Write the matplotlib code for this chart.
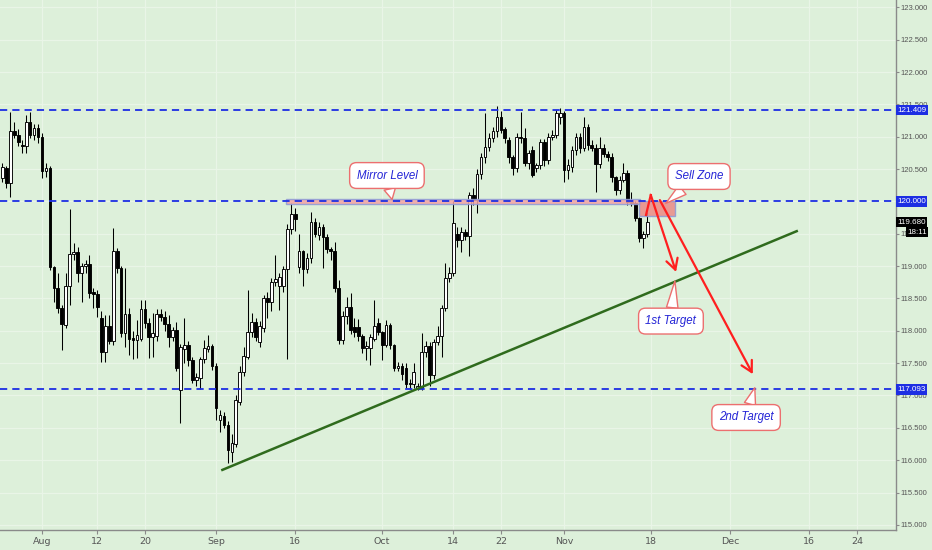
import numpy as np
import pandas as pd
import matplotlib
matplotlib.use('Agg')
import matplotlib.pyplot as plt
from matplotlib.patches import Rectangle

# 12h candles, EUR/JPY, 25 Jul - 15 Nov 2019
opens = [120.36, 120.52, 120.28, 121.09, 121.03, 120.87, 120.85, 121.23, 121.03, 121.13,
         121.00, 120.47, 120.52, 118.99, 118.66, 118.35, 118.09, 118.69, 119.18, 119.22,
         118.90, 119.00, 119.03, 118.60, 118.57, 118.20, 117.67, 118.07, 117.84, 119.23,
         118.97, 117.97, 118.26, 117.89, 117.86, 117.88, 118.34, 118.12, 117.90, 117.92,
         118.26, 118.22, 118.10, 117.91, 118.01, 117.09, 117.72, 117.78, 117.55, 117.24,
         117.27, 117.56, 117.72, 117.76, 117.45, 116.62, 116.68, 116.55, 116.13, 116.25,
         116.90, 117.36, 117.60, 117.98, 118.14, 117.82, 118.05, 118.50, 118.45, 118.76,
         118.70, 118.70, 118.95, 119.57, 119.80, 118.98, 119.23, 118.95, 119.12, 119.68,
         119.48, 119.60, 119.45, 119.26, 119.23, 118.66, 117.86, 118.23, 118.37, 118.06,
         118.06, 117.92, 117.73, 117.73, 117.88, 118.12, 117.98, 117.78, 118.09, 117.78,
         117.42, 117.45, 117.43, 117.20, 117.18, 117.10, 117.12, 117.67, 117.76, 117.31,
         117.82, 117.92, 118.35, 118.82, 118.90, 119.50, 119.40, 119.52, 119.46, 120.10,
         120.02, 120.42, 120.68, 120.84, 120.98, 121.09, 121.30, 121.12, 120.95, 120.68,
         120.52, 121.00, 120.98, 120.60, 120.80, 120.52, 120.56, 120.92, 120.64, 121.00,
         121.03, 121.30, 121.37, 120.49, 120.53, 120.79, 121.00, 120.82, 121.15, 120.87,
         120.83, 120.58, 120.82, 120.74, 120.68, 120.37, 120.18, 120.33, 120.44, 119.99,
         119.97, 119.74, 119.43, 119.50]
highs = [120.60, 120.55, 121.38, 121.22, 121.12, 120.95, 121.33, 121.38, 121.20, 121.20,
         121.05, 120.60, 120.55, 119.00, 118.90, 118.40, 118.90, 119.88, 119.36, 119.30,
         119.05, 119.10, 119.17, 118.66, 118.63, 118.30, 118.24, 118.24, 119.59, 119.28,
         119.00, 118.97, 118.35, 118.00, 118.17, 118.48, 118.48, 118.20, 118.27, 118.33,
         118.33, 118.30, 118.24, 118.06, 118.13, 117.80, 118.20, 117.85, 117.60, 117.35,
         117.60, 117.86, 117.93, 117.80, 117.50, 116.78, 116.75, 116.60, 116.40, 117.00,
         117.45, 117.75, 118.63, 118.28, 118.20, 118.15, 118.55, 118.60, 118.82, 119.17,
         118.90, 119.00, 119.65, 119.98, 119.90, 119.50, 119.25, 119.20, 119.83, 119.75,
         119.68, 119.65, 119.50, 119.30, 119.37, 118.79, 118.30, 118.52, 118.58, 118.20,
         118.18, 117.95, 117.85, 117.95, 118.48, 118.20, 118.00, 118.17, 118.12, 117.80,
         117.52, 117.50, 117.50, 117.25, 117.50, 117.20, 117.97, 117.85, 117.82, 117.88,
         118.08, 118.40, 119.05, 118.98, 120.00, 119.60, 119.60, 119.58, 120.15, 120.20,
         120.50, 120.75, 121.37, 121.05, 121.15, 121.48, 121.40, 121.15, 121.00, 120.72,
         121.06, 121.38, 121.13, 120.80, 120.85, 120.60, 120.97, 120.96, 121.05, 121.10,
         121.42, 121.45, 121.40, 120.65, 120.85, 121.05, 121.05, 121.30, 121.20, 120.95,
         120.88, 121.00, 120.88, 120.78, 120.75, 120.40, 120.40, 120.60, 120.48, 120.15,
         120.00, 119.76, 119.55, 119.83]
lows = [120.30, 120.20, 120.07, 120.98, 120.85, 120.75, 120.75, 120.98, 120.95, 120.90,
        120.36, 120.38, 118.94, 118.44, 118.27, 117.70, 118.05, 118.40, 119.10, 118.76,
        118.45, 118.90, 118.50, 118.35, 118.21, 117.52, 117.52, 117.80, 117.78, 118.90,
        117.90, 117.75, 117.62, 117.57, 117.58, 117.84, 118.05, 117.58, 117.60, 117.85,
        118.15, 118.00, 117.75, 117.85, 117.38, 116.58, 117.50, 117.45, 117.20, 117.15,
        117.10, 117.50, 117.68, 117.40, 116.62, 116.43, 116.50, 115.95, 115.97, 116.20,
        116.85, 117.30, 117.57, 117.90, 117.85, 117.75, 117.98, 118.20, 118.30, 118.70,
        118.32, 118.60, 117.57, 119.50, 119.55, 118.90, 118.70, 118.90, 119.05, 119.45,
        119.40, 118.97, 119.20, 119.10, 118.60, 117.80, 117.80, 118.10, 117.95, 117.90,
        117.85, 117.65, 117.55, 117.47, 117.85, 117.93, 117.55, 117.75, 117.72, 117.38,
        117.38, 117.24, 117.12, 117.10, 117.12, 117.09, 117.09, 117.60, 117.15, 117.25,
        117.78, 117.60, 118.30, 118.75, 118.85, 119.30, 119.22, 119.40, 119.15, 119.95,
        119.82, 120.35, 120.60, 120.78, 120.92, 121.00, 121.05, 120.90, 120.60, 120.41,
        120.45, 120.90, 120.55, 120.50, 120.38, 120.45, 120.50, 120.55, 120.58, 120.95,
        120.98, 121.20, 120.30, 120.35, 120.45, 120.72, 120.75, 120.78, 120.80, 120.78,
        120.15, 120.52, 120.68, 120.62, 120.30, 120.10, 120.12, 120.30, 119.95, 119.93,
        119.70, 119.38, 119.28, 119.45]
closes = [120.53, 120.28, 121.09, 121.03, 120.92, 120.85, 121.23, 121.03, 121.13, 120.99,
          120.47, 120.52, 118.99, 118.66, 118.35, 118.10, 118.69, 119.18, 119.22, 118.90,
          119.00, 119.03, 118.58, 118.57, 118.37, 117.67, 118.07, 117.84, 119.23, 118.97,
          117.97, 118.26, 117.87, 117.86, 117.94, 118.34, 118.12, 117.90, 117.96, 118.26,
          118.22, 118.10, 117.91, 118.01, 117.43, 117.75, 117.78, 117.55, 117.24, 117.29,
          117.56, 117.73, 117.76, 117.45, 116.80, 116.70, 116.55, 116.15, 116.27, 116.93,
          117.37, 117.61, 117.98, 118.14, 117.90, 118.08, 118.50, 118.45, 118.76, 118.80,
          118.83, 118.95, 119.57, 119.80, 119.73, 119.23, 118.95, 119.12, 119.68, 119.50,
          119.60, 119.45, 119.26, 119.23, 118.66, 117.86, 118.23, 118.37, 118.02, 117.98,
          117.92, 117.73, 117.76, 117.90, 118.07, 117.98, 117.78, 118.09, 117.78, 117.42,
          117.45, 117.33, 117.18, 117.18, 117.36, 117.14, 117.67, 117.76, 117.31, 117.82,
          117.92, 118.35, 118.82, 118.90, 119.67, 119.40, 119.52, 119.46, 120.10, 120.02,
          120.42, 120.68, 120.84, 120.98, 121.09, 121.30, 121.10, 120.98, 120.68, 120.52,
          121.00, 120.98, 120.60, 120.75, 120.41, 120.56, 120.92, 120.64, 121.00, 121.03,
          121.37, 121.37, 120.49, 120.56, 120.79, 121.00, 120.82, 121.15, 120.87, 120.83,
          120.58, 120.82, 120.74, 120.68, 120.37, 120.18, 120.33, 120.44, 119.99, 119.97,
          119.74, 119.43, 119.50, 119.68]

levels = [121.409, 120.000, 117.093]
last_price = 119.680
countdown = '18:11'

tick_dates = ['2019-08-01', '2019-08-12', '2019-08-20', '2019-09-02', '2019-09-16',
              '2019-10-01', '2019-10-14', '2019-10-22', '2019-11-01', '2019-11-18',
              '2019-12-02', '2019-12-16', '2019-12-24']
tick_labels = ['Aug', '12', '20', 'Sep', '16', 'Oct', '14', '22', 'Nov', '18', 'Dec', '16', '24']

# drawings (bar index, price)
trend_x = [55.6, 200.8]
trend_y = [115.85, 119.54]
mirror_zone = (71.7, 161.2, 119.96, 120.04)
sell_zone = (160.9, 170.0, 119.77, 120.00)
path1_x = [162.7, 163.9, 170.3]
path1_y = [119.79, 120.10, 118.91]
path2_x = [166.2, 189.7]
path2_y = [120.02, 117.33]
callouts = [('Mirror Level', (98.5, 120.03), (97.2, 120.40)),
            ('Sell Zone', (167.7, 119.97), (176.1, 120.385)),
            ('1st Target', (170.0, 118.77), (169.0, 118.15)),
            ('2nd Target', (190.2, 117.12), (188.0, 116.66))]

BG = '#ddf0da'
GRID = '#e9f5e7'
BLUE = '#1d2ee3'
RED = '#ff1f1f'
SCALE_FONT = 'Liberation Sans'

o = np.array(opens)
h = np.array(highs)
l = np.array(lows)
c = np.array(closes)
idx = np.arange(len(o))

# 2 bars per trading day
days = pd.bdate_range('2019-07-25', '2019-12-31')
tick_pos = [2 * days.get_loc(pd.Timestamp(d)) for d in tick_dates]

fig = plt.figure(figsize=(9.32, 5.5), dpi=100)
fig.patch.set_facecolor(BG)
ax = fig.add_axes([0, 20 / 550, 896 / 932, 530 / 550])
ax.set_facecolor(BG)
ax.set_axisbelow(True)

ax.set_xlim(-0.62, 225.9)
ax.set_ylim(114.921, 123.113)

# candles
up = c >= o
ax.vlines(idx, l, h, color='black', lw=0.75, zorder=2)
body_bot = np.minimum(o, c)
body_h = np.maximum(np.abs(c - o), 0.012)
ax.bar(idx, body_h, bottom=body_bot, width=0.68,
       color=np.where(up, 'white', 'black'), edgecolor='black', lw=0.65, zorder=3)

# horizontal levels
for lv in levels:
    ax.axhline(lv, color=BLUE, lw=1.3, dashes=(4, 2.8), zorder=4)

# zones
x0, x1, y0, y1 = mirror_zone
ax.add_patch(Rectangle((x0, y0), x1 - x0, y1 - y0, fc='#f3a3a3', ec='#8d9ad8',
                       lw=1, alpha=0.85, zorder=3.5))
x0, x1, y0, y1 = sell_zone
ax.add_patch(Rectangle((x0, y0), x1 - x0, y1 - y0, fc='#ea8a86', ec='#8d9ad8',
                       lw=1, alpha=0.85, zorder=3.5))

# trend line
ax.plot(trend_x, trend_y, color='#2f6b1d', lw=1.8, zorder=4)

# red projection arrows
ax.plot(path1_x[:2], path1_y[:2], color=RED, lw=1.6, zorder=5)
arrow = dict(arrowstyle='->,head_length=0.55,head_width=0.3', color=RED, lw=1.6,
             mutation_scale=14, shrinkA=0, shrinkB=0)
ax.annotate('', xy=(path1_x[2], path1_y[2]), xytext=(path1_x[1], path1_y[1]),
            arrowprops=arrow, zorder=5)
ax.annotate('', xy=(path2_x[1], path2_y[1]), xytext=(path2_x[0], path2_y[0]),
            arrowprops=arrow, zorder=5)

# callouts
for text, tip, box in callouts:
    ax.annotate(text, xy=tip, xytext=box, ha='center', va='center', fontsize=8.3,
                style='italic', color='#2424d6', family='Liberation Sans',
                bbox=dict(boxstyle='round,pad=0.6,rounding_size=0.6', fc='white',
                          ec='#ec6f6f', lw=1),
                arrowprops=dict(arrowstyle='wedge,tail_width=1.0,shrink_factor=0.5',
                                fc='white', ec='#ec6f6f', lw=1, shrinkA=0, shrinkB=0),
                zorder=6)

# axes styling
ax.grid(True, color=GRID, lw=0.9)
ax.set_xticks(tick_pos)
ax.set_xticklabels(tick_labels)
ax.yaxis.tick_right()
yt = np.arange(115, 123.01, 0.5)
ax.set_yticks(yt)
ax.set_yticklabels([f'{v:.3f}' for v in yt], family=SCALE_FONT)
ax.tick_params(axis='y', length=2, color='#8a8a8a', labelsize=5.5, labelcolor='#555555', pad=1.5)
ax.tick_params(axis='x', length=3, color='#8a8a8a', labelsize=6.8, labelcolor='#555555', pad=2)
for s in ['left', 'top']:
    ax.spines[s].set_visible(False)
for s in ['right', 'bottom']:
    ax.spines[s].set_color('#8a8a8a')
    ax.spines[s].set_linewidth(1)

# price tags on the scale
def tag(price, text, fc, dx=0.8, dy=0):
    ax.annotate(text, xy=(1, price), xycoords=('axes fraction', 'data'),
                xytext=(dx, dy), textcoords='offset points', ha='left', va='center',
                fontsize=5.8, color='white', family=SCALE_FONT,
                bbox=dict(boxstyle='square,pad=0.2', fc=fc, ec='none'),
                annotation_clip=False, zorder=10)

for lv in levels:
    tag(lv, f'{lv:.3f}', BLUE)
tag(last_price, f'{last_price:.3f}', 'black')
tag(last_price, countdown, 'black', dx=8.0, dy=-7.3)

fig.savefig('out.png', dpi=100, facecolor=BG)
